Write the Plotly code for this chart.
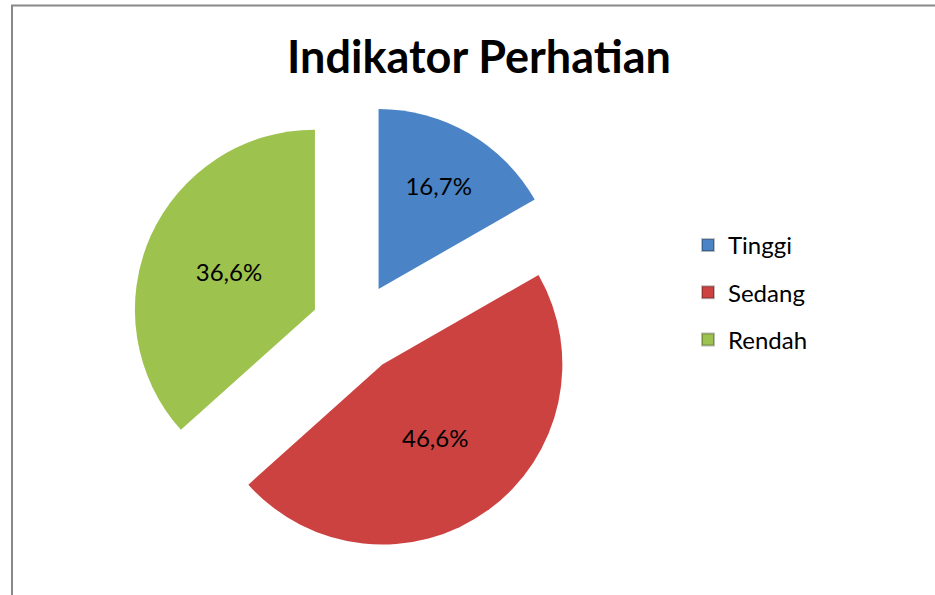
import plotly.graph_objects as go

categories = ["Tinggi", "Sedang", "Rendah"]
values = [16.7, 46.6, 36.6]
value_labels = ["16,7%", "46,6%", "36,6%"]
colors = ["#4A84C6", "#CC4240", "#9DC24E"]

W, H = 935, 595
cx, cy = 356, 328
R_total = 225
FONT = "Lato, 'Open Sans', sans-serif"

fig = go.Figure()
fig.add_trace(go.Pie(
    labels=categories,
    values=values,
    text=value_labels,
    textinfo="text",
    texttemplate="%{text}",
    textposition="inside",
    insidetextorientation="horizontal",
    sort=False,
    direction="clockwise",
    rotation=0,
    pull=[0.25, 0.25, 0.25],
    marker=dict(colors=colors, line=dict(width=0)),
    textfont=dict(family=FONT, size=24, color="black"),
    domain=dict(x=[(cx - R_total) / W, (cx + R_total) / W],
                y=[1 - (cy + R_total) / H, 1 - (cy - R_total) / H]),
    showlegend=False,
    hoverinfo="label+percent",
))

for c, col in zip(categories, colors):
    fig.add_trace(go.Scatter(
        x=[None], y=[None], mode="markers", name=c,
        marker=dict(symbol="square", size=13, color=col,
                    line=dict(width=1, color="rgba(0,0,0,0.25)")),
        legendgroup=c, showlegend=True,
    ))

fig.update_layout(
    width=W, height=H,
    margin=dict(l=0, r=0, t=0, b=0),
    paper_bgcolor="white",
    plot_bgcolor="white",
    xaxis=dict(visible=False, domain=[0, 0.01]),
    yaxis=dict(visible=False, domain=[0, 0.01]),
    title=dict(text="<b>Indikator Perhatian</b>", x=479 / W, xanchor="center",
               y=1 - 57 / H, yanchor="middle",
               font=dict(family=FONT, size=45, color="black")),
    legend=dict(x=688 / W, xanchor="left", y=1 - 223 / H, yanchor="top",
                font=dict(family=FONT, size=24, color="black"),
                tracegroupgap=13, bgcolor="rgba(0,0,0,0)", itemsizing="constant"),
    shapes=[dict(type="rect", xref="paper", yref="paper",
                 x0=12 / W, x1=1.02, y0=-0.02, y1=1 - 5.5 / H,
                 line=dict(color="#888888", width=2), fillcolor="rgba(0,0,0,0)",
                 layer="below")],
)

fig.write_html("out.html", config={"displayModeBar": False},
               post_script="document.body.style.margin='0';")
